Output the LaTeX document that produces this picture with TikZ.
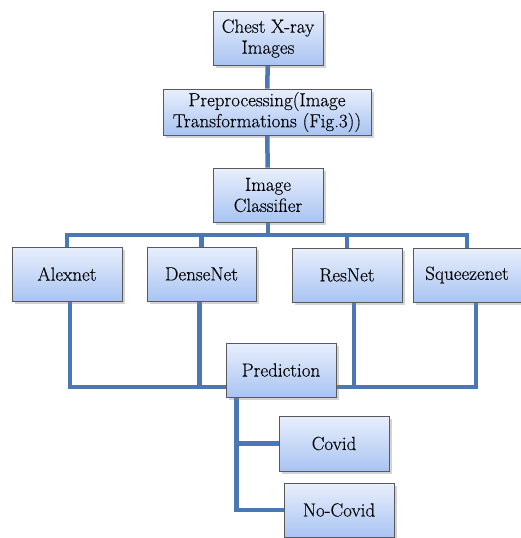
\documentclass[tikz,border=0pt]{standalone}
\usepackage{fontspec}
\newfontfamily\boxfont{Latin Modern Roman}[FakeBold=0.2]
\usepackage{tikz}
\usetikzlibrary{backgrounds,calc,shadows}

\definecolor{linkblue}{HTML}{4A78B4}
\definecolor{boxtop}{HTML}{E8EFFC}
\definecolor{boxbot}{HTML}{A9C4F2}

\tikzset{
  box/.style={rectangle, draw=gray!70!black, line width=0.8pt, top color=boxtop, bottom color=boxbot,
    minimum width=110pt, minimum height=54pt, inner sep=0pt, align=center,
    font=\boxfont\fontsize{19}{21}\selectfont,
    drop shadow={shadow xshift=2.5pt, shadow yshift=-2.5pt, opacity=0.35}},
  link/.style={draw=linkblue, line width=4.5pt}
}

\begin{document}
\begin{tikzpicture}[x=1pt,y=-1pt]
\useasboundingbox (0,0) rectangle (520,538);
\node[box] (chest) at (268,38.5) {Chest X-ray\\Images};
\node[box, minimum width=208pt, minimum height=46pt] (prep) at (267,112) {Preprocessing(Image\\Transformations (Fig.3))};
\node[box] (cls) at (268,195) {Image\\Classifier};
\node[box] (alex) at (67,274) {Alexnet};
\node[box, minimum width=109pt] (dense) at (201.5,274) {DenseNet};
\node[box] (res) at (347,275) {ResNet};
\node[box, minimum width=108pt] (squeeze) at (467,275) {Squeezenet};
\node[box] (pred) at (281,370) {Prediction};
\node[box, minimum height=55pt] (covid) at (334,443.5) {Covid};
\node[box] (nocovid) at (339,510) {No-Covid};
\coordinate (bus) at (0,235);
\coordinate (low) at (0,387);
\begin{scope}[on background layer]
\draw[link] (chest) -- (prep);
\draw[link] (prep) -- (cls);
\draw[link] (cls.south) -- (cls.south |- bus);
\draw[link] (alex.north) |- (squeeze.north |- bus) -- (squeeze.north);
\draw[link] (dense.north) -- (dense.north |- bus);
\draw[link] (res.north) -- (res.north |- bus);
\draw[link] ([xshift=3pt]alex.south) |- (pred.west |- low);
\draw[link] ([xshift=-2pt]dense.south) -- ([xshift=-2pt]dense.south |- low);
\draw[link] (pred.east |- low) -| ([xshift=9pt]squeeze.south);
\draw[link] ([xshift=7pt]res.south) -- ([xshift=7pt]res.south |- low);
\draw[link] ([xshift=11pt]pred.south west) |- (nocovid.west);
\draw[link] ([xshift=11pt]pred.south west |- covid.west) -- (covid.west);
\end{scope}
\end{tikzpicture}
\end{document}
